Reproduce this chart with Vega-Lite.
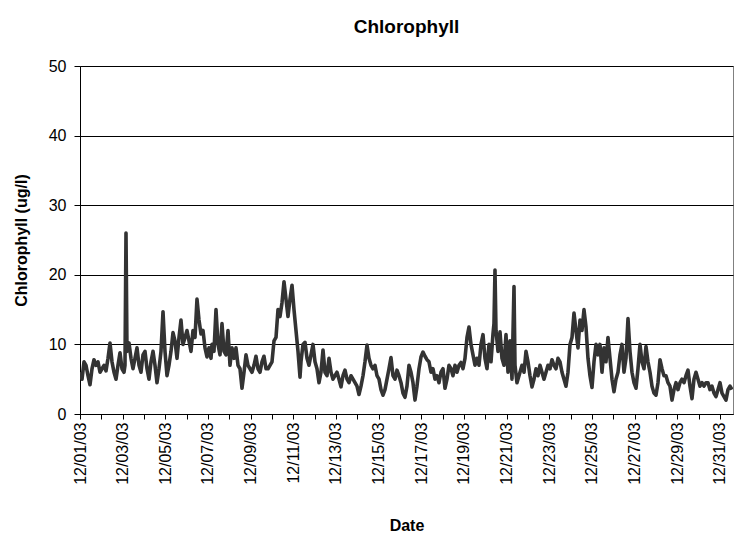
{
  "$schema": "https://vega.github.io/schema/vega-lite/v6.json",
  "width": 653,
  "height": 348,
  "autosize": {"type": "none"},
  "padding": {"left": 80, "top": 66, "right": 10, "bottom": 136},
  "background": "white",
  "title": {"text": "Chlorophyll", "font": "Liberation Sans", "fontSize": 19, "fontWeight": "bold", "color": "black", "anchor": "middle", "offset": 21},
  "config": {"view": {"stroke": "#808080", "strokeWidth": 1}},
  "data": {"values": [
    {"day":1.000,"chl":6.0},{"day":1.094,"chl":5.0},{"day":1.188,"chl":7.5},{"day":1.281,"chl":7.0},{"day":1.375,"chl":5.5},{"day":1.469,"chl":4.2},{"day":1.563,"chl":6.5},{"day":1.656,"chl":7.8},{"day":1.750,"chl":7.0},{"day":1.844,"chl":7.5},{"day":1.938,"chl":6.0},{"day":2.031,"chl":6.5},{"day":2.125,"chl":7.0},{"day":2.219,"chl":6.2},{"day":2.313,"chl":8.0},{"day":2.406,"chl":10.2},{"day":2.500,"chl":7.5},{"day":2.594,"chl":6.0},{"day":2.688,"chl":5.0},{"day":2.781,"chl":7.0},{"day":2.875,"chl":8.8},{"day":2.969,"chl":6.5},{"day":3.063,"chl":6.0},{"day":3.109,"chl":7.0},{"day":3.156,"chl":26.0},{"day":3.203,"chl":9.0},{"day":3.297,"chl":10.2},{"day":3.391,"chl":8.0},{"day":3.484,"chl":6.5},{"day":3.578,"chl":8.0},{"day":3.672,"chl":9.5},{"day":3.766,"chl":7.0},{"day":3.859,"chl":6.0},{"day":3.953,"chl":8.5},{"day":4.047,"chl":9.0},{"day":4.141,"chl":6.5},{"day":4.234,"chl":5.0},{"day":4.328,"chl":7.5},{"day":4.422,"chl":9.0},{"day":4.516,"chl":7.0},{"day":4.609,"chl":4.5},{"day":4.703,"chl":6.5},{"day":4.797,"chl":9.0},{"day":4.891,"chl":14.7},{"day":4.984,"chl":9.0},{"day":5.078,"chl":5.5},{"day":5.172,"chl":7.0},{"day":5.266,"chl":9.0},{"day":5.359,"chl":11.7},{"day":5.453,"chl":10.5},{"day":5.547,"chl":8.0},{"day":5.641,"chl":11.0},{"day":5.734,"chl":13.5},{"day":5.828,"chl":10.0},{"day":5.922,"chl":11.0},{"day":6.016,"chl":12.0},{"day":6.109,"chl":10.5},
    {"day":6.203,"chl":9.0},{"day":6.297,"chl":12.0},{"day":6.391,"chl":11.0},{"day":6.484,"chl":16.5},{"day":6.578,"chl":13.5},{"day":6.672,"chl":11.5},{"day":6.766,"chl":12.0},{"day":6.859,"chl":9.5},{"day":6.953,"chl":8.2},{"day":7.047,"chl":9.5},{"day":7.141,"chl":8.0},{"day":7.188,"chl":10.0},{"day":7.281,"chl":9.0},{"day":7.375,"chl":15.0},{"day":7.469,"chl":10.0},{"day":7.563,"chl":8.5},{"day":7.656,"chl":13.0},{"day":7.750,"chl":9.0},{"day":7.844,"chl":8.5},{"day":7.938,"chl":12.0},{"day":8.031,"chl":7.0},{"day":8.125,"chl":9.5},{"day":8.219,"chl":8.0},{"day":8.313,"chl":9.5},{"day":8.406,"chl":7.0},{"day":8.500,"chl":6.5},{"day":8.594,"chl":3.7},{"day":8.688,"chl":6.0},{"day":8.781,"chl":8.5},{"day":8.875,"chl":7.0},{"day":8.969,"chl":6.5},{"day":9.063,"chl":6.0},{"day":9.156,"chl":7.0},{"day":9.250,"chl":8.3},{"day":9.344,"chl":6.5},{"day":9.438,"chl":6.0},{"day":9.531,"chl":7.5},{"day":9.625,"chl":8.3},{"day":9.719,"chl":6.5},{"day":9.813,"chl":6.5},{"day":9.906,"chl":7.0},{"day":10.000,"chl":7.5},{"day":10.094,"chl":10.5},{"day":10.188,"chl":11.0},{"day":10.281,"chl":15.0},{"day":10.375,"chl":14.0},{"day":10.469,"chl":16.0},{"day":10.563,"chl":19.0},{"day":10.656,"chl":16.5},{"day":10.750,"chl":14.0},{"day":10.844,"chl":16.5},{"day":10.938,"chl":18.5},{"day":11.031,"chl":15.0},{"day":11.125,"chl":12.0},{"day":11.219,"chl":9.0},{"day":11.313,"chl":5.3},
    {"day":11.359,"chl":7.5},{"day":11.453,"chl":10.0},{"day":11.547,"chl":10.3},{"day":11.641,"chl":8.0},{"day":11.734,"chl":7.0},{"day":11.828,"chl":8.5},{"day":11.922,"chl":10.0},{"day":12.016,"chl":7.5},{"day":12.109,"chl":6.5},{"day":12.203,"chl":4.5},{"day":12.297,"chl":6.0},{"day":12.391,"chl":9.2},{"day":12.484,"chl":6.0},{"day":12.578,"chl":5.5},{"day":12.672,"chl":8.0},{"day":12.766,"chl":6.0},{"day":12.859,"chl":5.0},{"day":12.953,"chl":5.5},{"day":13.047,"chl":6.0},{"day":13.141,"chl":5.0},{"day":13.234,"chl":3.9},{"day":13.328,"chl":5.5},{"day":13.422,"chl":6.3},{"day":13.516,"chl":5.0},{"day":13.609,"chl":4.5},{"day":13.703,"chl":5.5},{"day":13.797,"chl":5.0},{"day":13.891,"chl":4.5},{"day":13.984,"chl":4.0},{"day":14.078,"chl":2.8},{"day":14.172,"chl":4.0},{"day":14.266,"chl":5.5},{"day":14.359,"chl":7.5},{"day":14.453,"chl":9.9},{"day":14.547,"chl":8.0},{"day":14.641,"chl":7.0},{"day":14.734,"chl":6.5},{"day":14.828,"chl":7.0},{"day":14.922,"chl":5.5},{"day":15.016,"chl":5.0},{"day":15.109,"chl":3.5},{"day":15.203,"chl":2.7},{"day":15.297,"chl":3.5},{"day":15.391,"chl":5.0},{"day":15.484,"chl":6.5},{"day":15.578,"chl":8.1},{"day":15.672,"chl":5.5},{"day":15.766,"chl":5.0},{"day":15.859,"chl":6.3},{"day":15.953,"chl":5.5},{"day":16.047,"chl":4.5},{"day":16.141,"chl":3.0},{"day":16.234,"chl":2.4},{"day":16.328,"chl":4.0},{"day":16.422,"chl":7.0},
    {"day":16.516,"chl":6.0},{"day":16.609,"chl":4.5},{"day":16.703,"chl":2.0},{"day":16.797,"chl":4.0},{"day":16.891,"chl":6.5},{"day":16.984,"chl":8.2},{"day":17.078,"chl":8.9},{"day":17.172,"chl":8.3},{"day":17.266,"chl":7.8},{"day":17.359,"chl":7.5},{"day":17.453,"chl":6.0},{"day":17.547,"chl":6.5},{"day":17.641,"chl":5.0},{"day":17.734,"chl":5.5},{"day":17.828,"chl":4.5},{"day":17.922,"chl":6.0},{"day":18.016,"chl":6.5},{"day":18.109,"chl":3.7},{"day":18.203,"chl":5.0},{"day":18.297,"chl":7.0},{"day":18.391,"chl":6.5},{"day":18.484,"chl":5.5},{"day":18.578,"chl":7.0},{"day":18.672,"chl":6.0},{"day":18.766,"chl":7.0},{"day":18.859,"chl":7.4},{"day":18.953,"chl":6.5},{"day":19.047,"chl":8.0},{"day":19.141,"chl":11.0},{"day":19.234,"chl":12.5},{"day":19.328,"chl":10.0},{"day":19.422,"chl":8.5},{"day":19.516,"chl":7.0},{"day":19.609,"chl":8.0},{"day":19.703,"chl":7.0},{"day":19.797,"chl":10.0},{"day":19.891,"chl":11.4},{"day":19.984,"chl":8.0},{"day":20.078,"chl":6.5},{"day":20.172,"chl":10.0},{"day":20.266,"chl":7.5},{"day":20.359,"chl":11.5},{"day":20.406,"chl":13.0},{"day":20.453,"chl":20.7},{"day":20.500,"chl":12.0},{"day":20.594,"chl":9.0},{"day":20.688,"chl":11.8},{"day":20.781,"chl":8.0},{"day":20.875,"chl":7.0},{"day":20.969,"chl":11.4},{"day":21.063,"chl":6.0},{"day":21.156,"chl":10.5},{"day":21.250,"chl":5.0},{"day":21.344,"chl":18.3},{"day":21.391,"chl":7.0},{"day":21.484,"chl":4.5},
    {"day":21.625,"chl":6.0},{"day":21.719,"chl":7.0},{"day":21.813,"chl":6.0},{"day":21.906,"chl":9.0},{"day":22.000,"chl":7.5},{"day":22.094,"chl":5.5},{"day":22.188,"chl":3.9},{"day":22.281,"chl":5.0},{"day":22.375,"chl":6.5},{"day":22.469,"chl":5.5},{"day":22.563,"chl":7.0},{"day":22.656,"chl":6.0},{"day":22.750,"chl":5.0},{"day":22.844,"chl":6.0},{"day":22.938,"chl":7.0},{"day":23.031,"chl":6.5},{"day":23.125,"chl":7.8},{"day":23.219,"chl":7.0},{"day":23.313,"chl":6.5},{"day":23.406,"chl":8.0},{"day":23.500,"chl":7.5},{"day":23.594,"chl":6.0},{"day":23.688,"chl":5.0},{"day":23.781,"chl":4.0},{"day":23.875,"chl":6.0},{"day":23.969,"chl":10.0},{"day":24.063,"chl":11.0},{"day":24.156,"chl":14.5},{"day":24.250,"chl":12.0},{"day":24.344,"chl":9.5},{"day":24.438,"chl":13.5},{"day":24.531,"chl":12.0},{"day":24.625,"chl":15.0},{"day":24.719,"chl":12.5},{"day":24.813,"chl":8.0},{"day":24.906,"chl":5.5},{"day":25.000,"chl":3.8},{"day":25.094,"chl":7.5},{"day":25.188,"chl":10.0},{"day":25.281,"chl":8.5},{"day":25.375,"chl":10.0},{"day":25.469,"chl":6.0},{"day":25.563,"chl":9.5},{"day":25.656,"chl":7.5},{"day":25.750,"chl":11.0},{"day":25.844,"chl":8.0},{"day":25.938,"chl":5.0},{"day":26.031,"chl":3.2},{"day":26.125,"chl":5.0},{"day":26.219,"chl":6.0},{"day":26.313,"chl":8.5},{"day":26.406,"chl":10.0},{"day":26.500,"chl":6.0},{"day":26.594,"chl":8.0},{"day":26.688,"chl":13.7},
    {"day":26.781,"chl":9.0},{"day":26.875,"chl":6.0},{"day":26.969,"chl":4.5},{"day":27.063,"chl":3.7},{"day":27.156,"chl":6.5},{"day":27.250,"chl":10.0},{"day":27.344,"chl":7.5},{"day":27.438,"chl":6.5},{"day":27.531,"chl":9.7},{"day":27.625,"chl":7.5},{"day":27.719,"chl":6.0},{"day":27.813,"chl":4.0},{"day":27.906,"chl":3.0},{"day":28.000,"chl":2.7},{"day":28.094,"chl":4.5},{"day":28.188,"chl":7.8},{"day":28.281,"chl":6.5},{"day":28.375,"chl":5.5},{"day":28.469,"chl":5.5},{"day":28.563,"chl":4.5},{"day":28.656,"chl":4.0},{"day":28.750,"chl":2.0},{"day":28.844,"chl":3.5},{"day":28.938,"chl":4.5},{"day":29.031,"chl":3.5},{"day":29.125,"chl":4.5},{"day":29.219,"chl":5.0},{"day":29.313,"chl":4.5},{"day":29.406,"chl":5.5},{"day":29.500,"chl":6.3},{"day":29.594,"chl":4.0},{"day":29.688,"chl":2.2},{"day":29.781,"chl":5.0},{"day":29.875,"chl":6.0},{"day":29.969,"chl":5.0},{"day":30.063,"chl":4.0},{"day":30.156,"chl":4.5},{"day":30.250,"chl":4.0},{"day":30.344,"chl":4.5},{"day":30.438,"chl":4.5},{"day":30.531,"chl":3.5},{"day":30.625,"chl":4.0},{"day":30.719,"chl":3.0},{"day":30.813,"chl":2.5},{"day":30.906,"chl":3.5},{"day":31.000,"chl":4.5},{"day":31.094,"chl":3.0},{"day":31.188,"chl":2.5},{"day":31.281,"chl":2.0},{"day":31.375,"chl":3.5},{"day":31.469,"chl":4.0},{"day":31.563,"chl":3.5}
  ]},
  "mark": {"type": "line", "color": "#333333", "strokeWidth": 3.6, "strokeJoin": "round", "clip": true},
  "encoding": {
    "x": {
      "field": "day", "type": "quantitative",
      "scale": {"domain": [1, 31.61], "nice": false, "zero": false},
      "axis": {
        "title": "Date", "titleFont": "Liberation Sans", "titleFontSize": 16, "titleFontWeight": "bold", "titleColor": "black", "titlePadding": 33,
        "values": [1,2,3,4,5,6,7,8,9,10,11,12,13,14,15,16,17,18,19,20,21,22,23,24,25,26,27,28,29,30,31],
        "labelExpr": "datum.value % 2 == 1 ? '12/' + (datum.value < 10 ? '0' : '') + datum.value + '/03' : ''",
        "labelAngle": -90, "labelAlign": "right", "labelBaseline": "middle", "labelPadding": 3,
        "labelFont": "Liberation Sans", "labelFontSize": 16, "labelColor": "black",
        "labelOverlap": false, "labelFlush": false, "labelBound": false,
        "tickSize": 5, "tickColor": "black", "domainColor": "black", "grid": false
      }
    },
    "y": {
      "field": "chl", "type": "quantitative",
      "scale": {"domain": [0, 50], "nice": false},
      "axis": {
        "title": "Chlorophyll (ug/l)", "titleFont": "Liberation Sans", "titleFontSize": 16, "titleFontWeight": "bold", "titleColor": "black", "titlePadding": 19,
        "values": [0, 10, 20, 30, 40, 50],
        "labelFont": "Liberation Sans", "labelFontSize": 16, "labelColor": "black", "labelPadding": 8,
        "tickSize": 6, "tickColor": "black", "domainColor": "black",
        "grid": true, "gridColor": "black", "gridWidth": 1
      }
    }
  }
}
